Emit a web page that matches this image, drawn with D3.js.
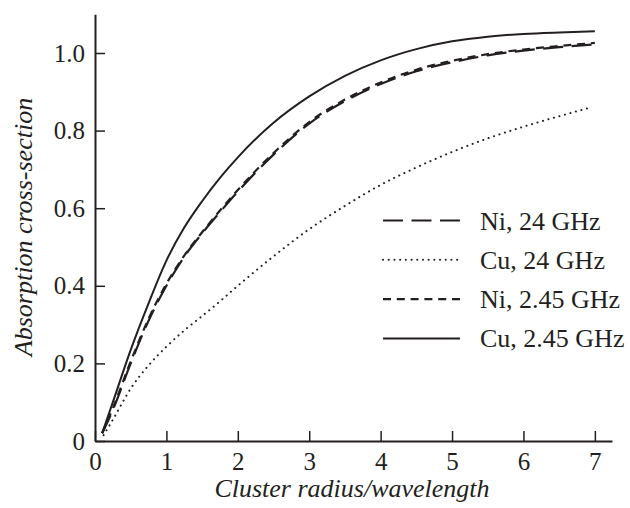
<!DOCTYPE html>
<html>
<head>
<meta charset="utf-8">
<script src="https://cdn.jsdelivr.net/npm/d3@7"></script>
<style>
  body { margin: 0; background: #fff; }
  svg text { font-family: "Liberation Serif", "DejaVu Serif", serif; fill: #231f20; }
</style>
</head>
<body>
<div id="chart"></div>
<script>
// Data
const xValues = [0.1, 0.25, 0.5, 0.75, 1, 1.25, 1.5, 1.75, 2, 2.5, 3, 3.5, 4, 4.5, 5, 5.5, 6, 6.5, 7];
const ni24 = [0.02, 0.08, 0.2, 0.31, 0.40, 0.475, 0.535, 0.59, 0.643, 0.738, 0.818, 0.876, 0.92, 0.953, 0.976, 0.994, 1.006, 1.015, 1.022];
const ni245 = [0.02, 0.085, 0.205, 0.315, 0.405, 0.478, 0.538, 0.594, 0.647, 0.742, 0.822, 0.88, 0.924, 0.957, 0.98, 0.997, 1.009, 1.018, 1.026];
const cu245 = [0.02, 0.1, 0.235, 0.355, 0.465, 0.55, 0.618, 0.678, 0.731, 0.82, 0.888, 0.941, 0.981, 1.01, 1.03, 1.042, 1.049, 1.053, 1.056];
const cu24X = [0.12, 0.25, 0.5, 0.75, 1, 1.25, 1.5, 1.75, 2, 2.5, 3, 3.5, 4, 4.5, 5, 5.5, 6, 6.5, 6.95];
const cu24 = [0.015, 0.055, 0.135, 0.195, 0.243, 0.285, 0.322, 0.36, 0.4, 0.476, 0.546, 0.606, 0.66, 0.705, 0.745, 0.78, 0.81, 0.837, 0.86];

const xTicks = [0, 1, 2, 3, 4, 5, 6, 7];
const yTicks = [0, 0.2, 0.4, 0.6, 0.8, 1.0];
const yTickLabels = ["0", "0.2", "0.4", "0.6", "0.8", "1.0"];

const legendLabels = ["Ni, 24 GHz", "Cu, 24 GHz", "Ni, 2.45 GHz", "Cu, 2.45 GHz"];

const width = 630, height = 508;
const serif = '"Liberation Serif", "DejaVu Serif", serif';

const svg = d3.select("#chart").append("svg")
    .attr("width", width)
    .attr("height", height);

// Scales
const x = d3.scaleLinear().domain([0, 7.24]).range([95, 612]);
const y = d3.scaleLinear().domain([0, 1.1]).range([441, 14.2]);

// Series with their dash styles
const series = [
    { name: legendLabels[0], xs: xValues, ys: ni24, dash: "20,8.5", width: 2.2, cap: "butt" },
    { name: legendLabels[1], xs: cu24X, ys: cu24, dash: "0.1,5.6", width: 2, cap: "round" },
    { name: legendLabels[2], xs: xValues, ys: ni245, dash: "8,5.8", width: 2.2, cap: "butt" },
    { name: legendLabels[3], xs: xValues, ys: cu245, dash: null, width: 2, cap: "butt" }
];

const line = d3.line()
    .x(d => x(d[0]))
    .y(d => y(d[1]))
    .curve(d3.curveMonotoneX);

svg.selectAll(".curve")
    .data(series)
    .enter().append("path")
    .attr("class", "curve")
    .attr("d", s => line(s.xs.map((v, i) => [v, s.ys[i]])))
    .attr("fill", "none")
    .attr("stroke", "#231f20")
    .attr("stroke-width", s => s.width)
    .attr("stroke-linecap", s => s.cap)
    .attr("stroke-dasharray", s => s.dash);

// Axes (ticks point inward)
const xAxis = d3.axisBottom(x)
    .tickValues(xTicks)
    .tickFormat(d3.format("d"))
    .tickSizeInner(-10)
    .tickSizeOuter(0)
    .tickPadding(11);

const yAxis = d3.axisLeft(y)
    .tickValues(yTicks)
    .tickFormat((d, i) => yTickLabels[i])
    .tickSizeInner(-10)
    .tickSizeOuter(0)
    .tickPadding(10);

const gx = svg.append("g")
    .attr("transform", `translate(0, ${y(0)})`)
    .call(xAxis);

const gy = svg.append("g")
    .attr("transform", `translate(${x(0)}, 0)`)
    .call(yAxis);

[gx, gy].forEach(g => {
    g.attr("font-family", serif).attr("font-size", 25);
    g.select(".domain").attr("stroke", "#231f20").attr("stroke-width", 2);
    g.selectAll(".tick line").attr("stroke", "#231f20").attr("stroke-width", 1.5);
    g.selectAll(".tick text").attr("fill", "#231f20");
});

// Axis titles
svg.append("text")
    .attr("x", 352)
    .attr("y", 497)
    .attr("text-anchor", "middle")
    .attr("font-family", serif)
    .attr("font-size", 26)
    .attr("font-style", "italic")
    .text("Cluster radius/wavelength");

svg.append("text")
    .attr("transform", "translate(32, 227) rotate(-90)")
    .attr("text-anchor", "middle")
    .attr("font-family", serif)
    .attr("font-size", 26)
    .attr("font-style", "italic")
    .text("Absorption cross-section");

// Legend
const legend = svg.selectAll(".legend")
    .data(series)
    .enter().append("g")
    .attr("class", "legend")
    .attr("transform", (d, i) => `translate(383, ${220.5 + i * 39.3})`);

legend.append("line")
    .attr("x1", 0)
    .attr("x2", 77)
    .attr("stroke", "#231f20")
    .attr("stroke-width", d => d.width)
    .attr("stroke-linecap", d => d.cap)
    .attr("stroke-dasharray", d => d.dash);

legend.append("text")
    .attr("x", 97)
    .attr("y", 9)
    .attr("font-family", serif)
    .attr("font-size", 26)
    .text(d => d.name);
</script>
</body>
</html>
